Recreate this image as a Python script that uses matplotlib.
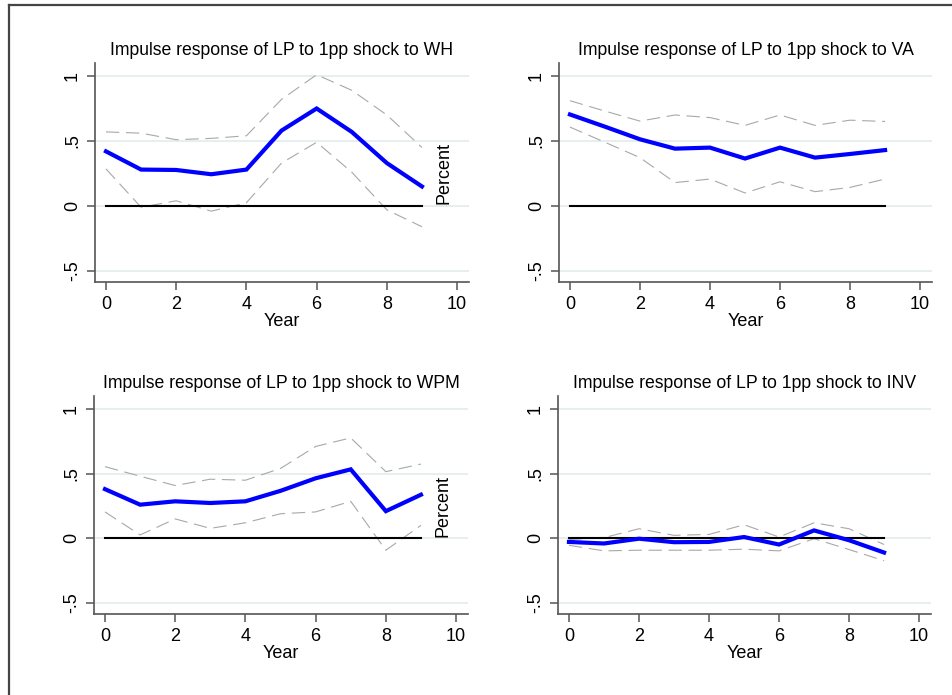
import matplotlib
matplotlib.use("Agg")
import matplotlib.pyplot as plt
from matplotlib.lines import Line2D

plt.rcParams['font.family'] = ['Liberation Sans', 'DejaVu Sans']

years = [0, 1, 2, 3, 4, 5, 6, 7, 8, 9]
titles = ["Impulse response of LP to 1pp shock to WH",
          "Impulse response of LP to 1pp shock to VA",
          "Impulse response of LP to 1pp shock to WPM",
          "Impulse response of LP to 1pp shock to INV"]

wh_irf = [0.42, 0.28, 0.277, 0.244, 0.28, 0.58, 0.75, 0.57, 0.33, 0.15]
wh_up = [0.57, 0.56, 0.51, 0.52, 0.54, 0.82, 1.01, 0.89, 0.70, 0.45]
wh_lo = [0.285, -0.01, 0.04, -0.04, 0.025, 0.33, 0.49, 0.26, -0.03, -0.16]

va_irf = [0.704, 0.61, 0.513, 0.441, 0.449, 0.365, 0.449, 0.372, 0.40, 0.43]
va_up = [0.81, 0.73, 0.653, 0.70, 0.68, 0.62, 0.70, 0.62, 0.66, 0.65]
va_lo = [0.607, 0.49, 0.372, 0.18, 0.207, 0.10, 0.186, 0.11, 0.143, 0.207]

wpm_irf = [0.38, 0.26, 0.286, 0.273, 0.286, 0.367, 0.464, 0.533, 0.21, 0.337]
wpm_up = [0.554, 0.48, 0.408, 0.457, 0.449, 0.54, 0.71, 0.776, 0.515, 0.574]
wpm_lo = [0.204, 0.026, 0.15, 0.077, 0.12, 0.19, 0.204, 0.286, -0.092, 0.10]

inv_irf = [-0.028, -0.04, -0.003, -0.03, -0.028, 0.01, -0.048, 0.061, -0.015, -0.11]
inv_up = [-0.01, 0.005, 0.074, 0.023, 0.03, 0.105, 0.01, 0.12, 0.074, -0.048]
inv_lo = [-0.054, -0.097, -0.092, -0.092, -0.092, -0.084, -0.097, -0.003, -0.087, -0.173]

panels = [(wh_irf, wh_up, wh_lo, True),
          (va_irf, va_up, va_lo, False),
          (wpm_irf, wpm_up, wpm_lo, True),
          (inv_irf, inv_up, inv_lo, False)]

xticks = [0, 2, 4, 6, 8, 10]
yticks = [-0.5, 0, 0.5, 1]
yticklabels = ["-.5", "0", ".5", "1"]

W, H = 952, 695
fig = plt.figure(figsize=(W / 100, H / 100), dpi=100)

# axes boxes in pixel coords: (left, top, right, bottom)
boxes = [(95, 63, 469, 282), (559, 63, 932, 282),
         (94, 396, 468, 614), (558, 396, 931, 614)]

axis_col = "#555555"
for (irf, up, lo, show_pct), title, (l, t, r, b) in zip(panels, titles, boxes):
    ax = fig.add_axes([l / W, 1 - b / H, (r - l) / W, (b - t) / H])
    ax.set_xlim(-0.313, 10.34)
    ax.set_ylim(-0.585, 1.10)
    for s in ["top", "right"]:
        ax.spines[s].set_visible(False)
    for s in ["left", "bottom"]:
        ax.spines[s].set_color(axis_col)
        ax.spines[s].set_linewidth(1.2)
    ax.set_yticks(yticks)
    ax.set_yticklabels(yticklabels, rotation=90, va="center")
    ax.set_xticks(xticks)
    ax.tick_params(axis="both", length=6, width=1.1, color=axis_col,
                   labelsize=13, pad=4)
    ax.yaxis.grid(True, color="#e6eef0", linewidth=1.4)
    ax.set_axisbelow(True)
    ax.plot(years, up, color="#a8a8a8", lw=0.8, linestyle=(0, (12, 6)))
    ax.plot(years, lo, color="#a8a8a8", lw=0.8, linestyle=(0, (12, 6)))
    ax.plot([years[0], years[-1]], [0, 0], color="black", lw=1.5)
    ax.plot(years, irf, color="#0000ff", lw=3.0, solid_joinstyle="miter")
    ax.set_title(title, fontsize=12.7, pad=6)
    ax.set_xlabel("Year", fontsize=13, labelpad=0)
    if show_pct:
        ax.text(9.63, 0.25, "Percent", rotation=90, ha="center", va="center",
                fontsize=13)

# outer frame (partial border)
fig.add_artist(Line2D([9 / W, 1], [1 - 5 / H, 1 - 5 / H], transform=fig.transFigure,
                      color="#444444", lw=1.6))
fig.add_artist(Line2D([9 / W, 9 / W], [0, 1 - 5 / H], transform=fig.transFigure,
                      color="#444444", lw=1.6))

fig.savefig("out.png", dpi=100)
